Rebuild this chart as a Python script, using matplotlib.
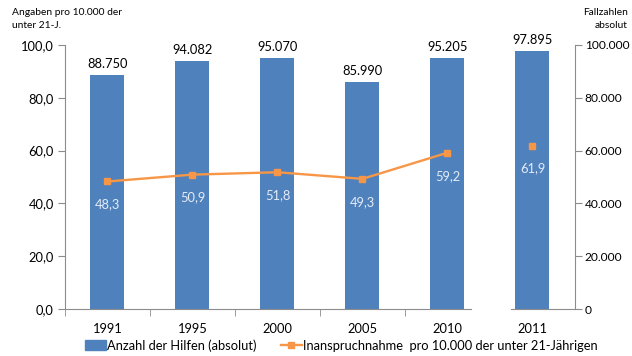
import matplotlib
matplotlib.use("Agg")
import matplotlib.pyplot as plt
from matplotlib.lines import Line2D
from matplotlib.patches import Patch

plt.rcParams["font.family"] = ["Lato", "DejaVu Sans"]

# ---------------------------------------------------------------------------
# data
# ---------------------------------------------------------------------------
YEARS = ["1991", "1995", "2000", "2005", "2010", "2011"]
HILFEN_ABS = [88750, 94082, 95070, 85990, 95205, 97895]
RATE_PRO_10000 = [48.3, 50.9, 51.8, 49.3, 59.2, 61.9]

LEGEND_BARS = "Anzahl der Hilfen (absolut)"
LEGEND_LINE = "Inanspruchnahme  pro 10.000 der unter 21-Jährigen"

BLUE = "#4F81BD"
ORANGE = "#F79646"
GREY = "#8C8C8C"
LABEL_LIGHT = "#E4ECF7"
FS = 9.3


def de_int(v):
    return f"{int(round(v)):,}".replace(",", ".")


def de_dec(v):
    return f"{v:.1f}".replace(".", ",")


fig = plt.figure(figsize=(6.32, 3.56), dpi=100)
ax = fig.add_axes([0.1028, 0.132, 0.807, 0.7416])
ax2 = ax.twinx()

x = list(range(len(YEARS)))

# bars on right axis (absolute numbers)
ax2.bar(x, HILFEN_ABS, width=0.4, color=BLUE, zorder=2)
ax2.set_ylim(0, 100000)
ax2.set_yticks(range(0, 100001, 20000))
ax2.set_yticklabels([de_int(v) for v in range(0, 100001, 20000)])
for xi, v in zip(x, HILFEN_ABS):
    ax2.annotate(de_int(v), (xi, v), xytext=(0, 5), textcoords="offset pixels",
                 ha="center", va="bottom", fontsize=FS, color="black")

# rate line on left axis, 2011 stands alone
ax.set_zorder(ax2.get_zorder() + 1)
ax.patch.set_visible(False)
ax.plot(x[:5], RATE_PRO_10000[:5], color=ORANGE, lw=1.7, marker="s",
        markersize=5, zorder=3)
ax.plot(x[5:], RATE_PRO_10000[5:], color=ORANGE, lw=0, marker="s",
        markersize=5, zorder=3)
for xi, v in zip(x, RATE_PRO_10000):
    ax.annotate(de_dec(v), (xi, v), xytext=(0, -17), textcoords="offset pixels",
                ha="center", va="top", fontsize=FS, color=LABEL_LIGHT)

ax.set_xlim(-0.5, 5.5)
ax.set_ylim(0, 100)
ax.set_yticks(range(0, 101, 20))
ax.set_yticklabels([de_dec(v) for v in range(0, 101, 20)])
ax.set_xticks(x)
ax.set_xticklabels(YEARS)
ax.set_xticks([-0.5, 0.5, 1.5, 2.5, 3.5], minor=True)

for a in (ax, ax2):
    a.spines["top"].set_visible(False)
    a.tick_params(axis="both", which="both", colors=GREY, labelcolor="black",
                  labelsize=FS)
ax.spines["right"].set_visible(False)
ax2.spines["left"].set_visible(False)
ax2.spines["bottom"].set_visible(False)
ax.spines["left"].set_color(GREY)
ax2.spines["right"].set_color(GREY)
ax.spines["bottom"].set_color(GREY)
ax.spines["bottom"].set_bounds(-0.5, 4.28)
ax.plot([4.75, 5.5], [0, 0], color=GREY, lw=0.8, clip_on=False, zorder=1)

ax.tick_params(axis="x", which="major", length=0, pad=10)
ax.tick_params(axis="x", which="minor", length=5)
ax.tick_params(axis="y", length=5, pad=3)
ax2.tick_params(axis="y", length=5, pad=2, labelsize=8.6)

fig.text(0.019, 0.977, "Angaben pro 10.000 der\nunter 21-J.", fontsize=7.4,
         ha="left", va="top", linespacing=1.5)
fig.text(0.993, 0.977, "Fallzahlen\nabsolut", fontsize=7.4, ha="right", va="top",
         linespacing=1.5, multialignment="right")

handles = [Patch(color=BLUE),
           Line2D([], [], color=ORANGE, lw=1.7, marker="s", markersize=5)]
fig.legend(handles, [LEGEND_BARS, LEGEND_LINE], loc="center",
           bbox_to_anchor=(0.54, 0.03), ncol=2, frameon=False, fontsize=FS,
           handlelength=1.6, handletextpad=0.1, columnspacing=1.9,
           handleheight=0.9)

fig.savefig("out.png", dpi=100)
